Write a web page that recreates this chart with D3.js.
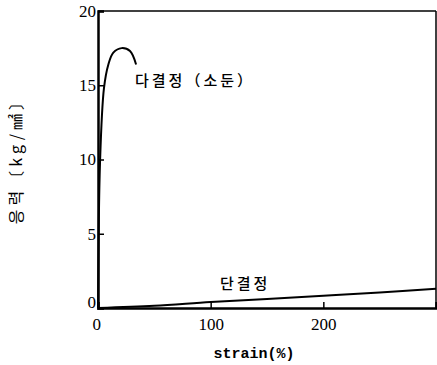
<!DOCTYPE html>
<html><head><meta charset="utf-8">
<script src="https://cdn.jsdelivr.net/npm/d3@7"></script>
<style>body{margin:0;background:#fff}svg{display:block}
.tick text{font-family:'Liberation Serif','DejaVu Serif',serif !important;font-size:17px !important;fill:#000}
</style>
</head><body>
<script>
const xTicks = [0, 100, 200];
const yTicks = [0, 5, 10, 15, 20];
const polyStrain = [0, 1.8, 5.3, 9.2, 13.6, 21, 28.4, 33.8];
const polyStress = [0, 9.8, 14.8, 16.4, 17.2, 17.5, 17.3, 16.4];
const singleStrain = [0, 50, 100, 150, 200, 250, 300];
const singleStress = [0, 0.15, 0.4, 0.6, 0.82, 1.05, 1.3];
const polyLabel = "다결정（소둔）";
const singleLabel = "단결정";
const xTitle = "strain(%)";
const yTitle = "응력〔kg/㎟〕";

const W = 437, H = 365;
const svg = d3.select("body").append("svg").attr("width", W).attr("height", H);
const L = 98, R = 436, T = 11, B = 308;
const x = d3.scaleLinear().domain([0, 300]).range([L, R]);
const y = d3.scaleLinear().domain([0, 20]).range([B, T]);

const kr = "'Noto Sans CJK KR',sans-serif";

// frame
svg.append("line").attr("x1", L).attr("x2", R).attr("y1", T).attr("y2", T).attr("stroke", "#000").attr("stroke-width", 1.5);
svg.append("line").attr("x1", R).attr("x2", R).attr("y1", T).attr("y2", B).attr("stroke", "#000").attr("stroke-width", 1.5);

// axes
const xAxis = d3.axisBottom(x).tickValues(xTicks).tickSize(-6).tickPadding(10).tickFormat(d3.format("d"));
const gx = svg.append("g").attr("transform", `translate(0,${B})`).call(xAxis);
gx.select(".domain").attr("stroke-width", 2.5);
gx.selectAll(".tick line").attr("stroke-width", 1.5);

const yAxis = d3.axisLeft(y).tickValues(yTicks).tickSize(-6).tickPadding(2).tickFormat(d3.format("d"));
const gy = svg.append("g").attr("transform", `translate(${L},0)`).call(yAxis);
gy.select(".domain").attr("stroke-width", 2.5);
gy.selectAll(".tick line").attr("stroke-width", 1.5);
gy.selectAll(".tick").filter(d => d === 0).select("text").attr("dy", "-0.05em");
gx.selectAll(".tick").filter(d => d === 0).select("text").attr("dx", "-0.1em");

// curves
const line = d3.line().x(d => x(d[0])).y(d => y(d[1])).curve(d3.curveCatmullRom.alpha(0.5));
svg.append("path").datum(polyStrain.map((s, i) => [s, polyStress[i]]))
  .attr("d", line).attr("fill", "none").attr("stroke", "#000").attr("stroke-width", 2);
svg.append("path").datum(singleStrain.map((s, i) => [s, singleStress[i]]))
  .attr("d", line).attr("fill", "none").attr("stroke", "#000").attr("stroke-width", 2);

// labels
svg.append("text").attr("x", 135).attr("y", 86).attr("font-family", kr).attr("font-size", 15)
  .attr("font-weight", 500).attr("letter-spacing", 3).text(polyLabel);
svg.append("text").attr("x", 220).attr("y", 289).attr("font-family", kr).attr("font-size", 15)
  .attr("font-weight", 500).attr("letter-spacing", 3).text(singleLabel);

svg.append("text").attr("x", 254).attr("y", 358).attr("text-anchor", "middle")
  .attr("font-family", "'Liberation Mono','DejaVu Sans Mono',monospace").attr("font-weight", "bold")
  .attr("font-size", 15).text(xTitle);

svg.append("text").attr("transform", "translate(22,157) rotate(-90)").attr("text-anchor", "middle")
  .attr("font-family", kr).attr("font-size", 16).attr("letter-spacing", 4).attr("fill", "#000").text(yTitle);
</script>
</body></html>
